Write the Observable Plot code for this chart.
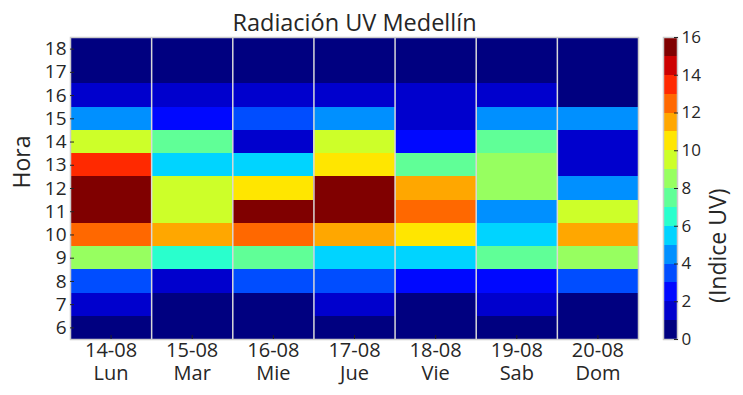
<!DOCTYPE html>
<html><head><meta charset="utf-8">
<script src="https://cdn.jsdelivr.net/npm/d3@7"></script>
<script src="https://cdn.jsdelivr.net/npm/@observablehq/plot@0.6"></script>
<style>
body{margin:0;background:#fff;}
#wrap{position:relative;width:743px;height:395px;}
#wrap svg{position:absolute;left:0;top:0;}
</style></head><body><div id="wrap"></div>
<script>
const days = ["14-08","15-08","16-08","17-08","18-08","19-08","20-08"];
const weekdays = ["Lun","Mar","Mie","Jue","Vie","Sab","Dom"];
const hours = [6,7,8,9,10,11,12,13,14,15,16,17,18];
// UV index per hour (6..18) for each day
const uv_14 = [0,1,3,8,12,15,15,13,9,4,1,0,0];
const uv_15 = [0,0,1,6,11,9,9,5,7,2,1,0,0];
const uv_16 = [0,0,3,7,12,15,10,5,1,3,1,0,0];
const uv_17 = [0,1,3,5,11,15,15,10,9,4,1,0,0];
const uv_18 = [0,0,2,5,10,12,11,7,2,1,1,0,0];
const uv_19 = [0,1,2,7,5,4,8,8,7,4,1,0,0];
const uv_20 = [0,0,3,8,11,9,4,1,1,4,0,0,0];
const series = [uv_14,uv_15,uv_16,uv_17,uv_18,uv_19,uv_20];
const levels = [0,1,2,3,4,5,6,7,8,9,10,11,12,13,14,15];
const cbTicks = [0,2,4,6,8,10,12,14,16];
const palette = ["#000080","#0000cd","#0008ff","#004dff","#0090ff","#00d4ff","#29ffcd","#60ff97",
                 "#97ff60","#cdff29","#ffe600","#ffa700","#ff6800","#ff2900","#cd0000","#800000"];

const cells = [];
series.forEach((vals, d) => vals.forEach((v, h) => cells.push({d, hour: hours[h], value: v})));
const dayIdx = days.map((_, i) => i);
const bounds = dayIdx.slice(1).map(i => i - 0.5);

const color = {type: "threshold", domain: levels.slice(1), range: palette};
const font = {fontFamily: "'Open Sans', sans-serif", fontSize: "18px", color: "#262626", background: "transparent", overflow: "visible"};

const main = Plot.plot({
  width: 743, height: 395,
  marginTop: 37, marginBottom: 56, marginLeft: 70, marginRight: 105,
  x: {domain: [-0.5, days.length - 0.5]},
  y: {domain: [hours[0] - 0.5, hours[hours.length - 1] + 0.5]},
  color,
  style: font,
  marks: [
    Plot.rect(cells, {x1: c => c.d - 0.5, x2: c => c.d + 0.5, y1: c => c.hour - 0.5, y2: c => c.hour + 0.5, fill: "value", shapeRendering: "crispEdges"}),
    Plot.ruleX(bounds, {stroke: "#d8d8d8", strokeWidth: 1.5}),
    Plot.frame({stroke: "#cccccc", strokeWidth: 1.5}),
    Plot.axisX(dayIdx, {tickFormat: i => days[i] + "\n" + weekdays[i], tickSize: -4, tickPadding: 5, lineHeight: 1.15, label: null, fontSize: 20, stroke: "#222"}),
    Plot.axisY(hours, {tickFormat: d => String(d), tickSize: -4, tickPadding: 8, label: null, fontSize: 19}),
    Plot.text(["Hora"], {frameAnchor: "left", rotate: -90, dx: -48, fontSize: 23, fill: "#262626"}),
    Plot.text(["Radiación UV Medellín"], {frameAnchor: "top", dy: -23, fontSize: 23.5, fill: "#262626"})
  ]
});

const bar = Plot.plot({
  width: 743, height: 395,
  marginTop: 37, marginBottom: 56, marginLeft: 663, marginRight: 66,
  y: {domain: [0, 16]},
  color,
  style: font,
  marks: [
    Plot.rect(levels, {y1: l => l, y2: l => l + 1, fill: l => l, shapeRendering: "crispEdges"}),
    Plot.frame({stroke: "#cccccc", strokeWidth: 1.5}),
    Plot.axisY(cbTicks, {anchor: "right", tickSize: -4, tickPadding: 8, label: null, fontSize: 17}),
    Plot.text(["(Indice UV)"], {frameAnchor: "right", rotate: -90, dx: 41, fontSize: 23, fill: "#262626"})
  ]
});
document.getElementById("wrap").append(main, bar);
</script></body></html>
